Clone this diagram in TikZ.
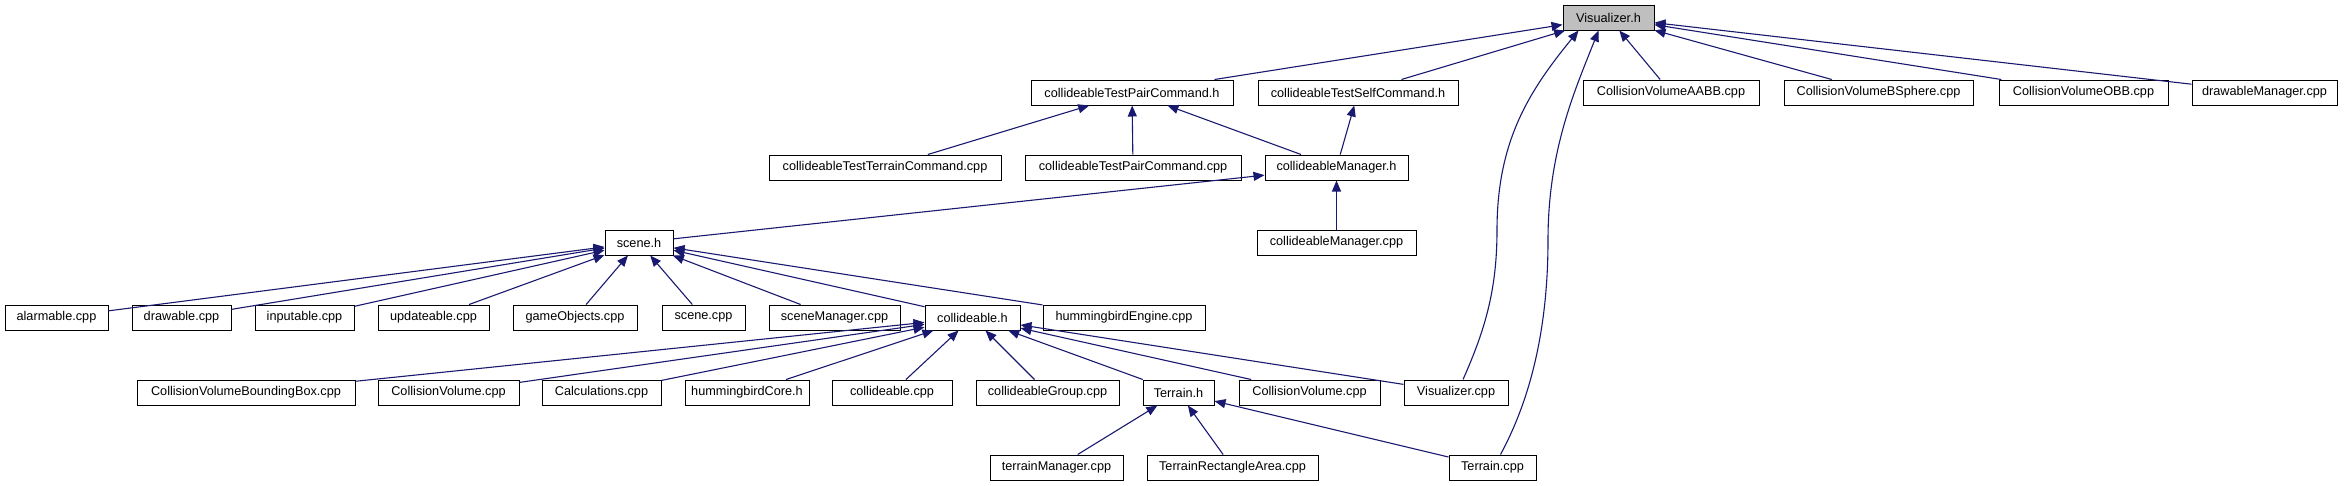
\documentclass[tikz,border=0pt]{standalone}
\usepackage{fontspec}
\setmainfont{Liberation Sans}
\usetikzlibrary{arrows.meta}
\definecolor{edgeblue}{RGB}{25,25,112}
\definecolor{rootgray}{RGB}{191,191,191}
\begin{document}
\begin{tikzpicture}[x=1pt, y=-1pt,
    file/.style={draw=black, line width=1pt, fill=white, minimum height=25pt,
        inner sep=0pt, font=\fontsize{12.7}{14}\selectfont},
    inc/.style={draw=edgeblue, line width=1.1pt, -{Triangle[length=11pt, width=9pt]}}]
    \useasboundingbox (0, 0) rectangle (2345, 485);

    % top
    \node[file, fill=rootgray, minimum width=91pt] (vish) at (1608.5, 17.5) {Visualizer.h};

    % rank 1
    \node[file, minimum width=202pt] (pairh) at (1132, 92.5) {collideableTestPairCommand.h};
    \node[file, minimum width=200pt] (selfh) at (1358, 92.5) {collideableTestSelfCommand.h};
    \node[file, minimum width=176pt] (aabb) at (1671, 92.5) {CollisionVolumeAABB.cpp};
    \node[file, minimum width=189pt] (bsphere) at (1878.5, 92.5) {CollisionVolumeBSphere.cpp};
    \node[file, minimum width=169pt] (obb) at (2083.5, 92.5) {CollisionVolumeOBB.cpp};
    \node[file, minimum width=145pt] (drawmgr) at (2264.5, 92.5) {drawableManager.cpp};

    % rank 2
    \node[file, minimum width=232pt] (terraincmd) at (885, 167.5) {collideableTestTerrainCommand.cpp};
    \node[file, minimum width=216pt] (paircpp) at (1133, 167.5) {collideableTestPairCommand.cpp};
    \node[file, minimum width=143pt] (mgrh) at (1336.5, 167.5) {collideableManager.h};

    % rank 3
    \node[file, minimum width=68pt] (sceneh) at (639, 242.5) {scene.h};
    \node[file, minimum width=159pt] (mgrcpp) at (1336.5, 242.5) {collideableManager.cpp};

    % rank 4
    \node[file, minimum width=103pt] (alarm) at (56.5, 317.5) {alarmable.cpp};
    \node[file, minimum width=99pt] (drawc) at (181.5, 317.5) {drawable.cpp};
    \node[file, minimum width=99pt] (inputc) at (304.5, 317.5) {inputable.cpp};
    \node[file, minimum width=111pt] (updatec) at (433.5, 317.5) {updateable.cpp};
    \node[file, minimum width=124pt] (gameobj) at (575, 317.5) {gameObjects.cpp};
    \node[file, minimum width=83pt] (scenec) at (703.5, 317.5) {scene.cpp};
    \node[file, minimum width=131pt] (scenemgr) at (834.5, 317.5) {sceneManager.cpp};
    \node[file, minimum width=95pt] (collh) at (972.5, 317.5) {collideable.h};
    \node[file, minimum width=162pt] (hbengine) at (1124, 317.5) {hummingbirdEngine.cpp};

    % rank 5
    \node[file, minimum width=218pt] (cvbb) at (246, 392.5) {CollisionVolumeBoundingBox.cpp};
    \node[file, minimum width=141pt] (cvone) at (448.5, 392.5) {CollisionVolume.cpp};
    \node[file, minimum width=119pt] (calc) at (601.5, 392.5) {Calculations.cpp};
    \node[file, minimum width=124pt] (hbcore) at (747, 392.5) {hummingbirdCore.h};
    \node[file, minimum width=120pt] (collc) at (892, 392.5) {collideable.cpp};
    \node[file, minimum width=143pt] (collgrp) at (1047.5, 392.5) {collideableGroup.cpp};
    \node[file, minimum width=71pt] (terrainh) at (1178.5, 392.5) {Terrain.h};
    \node[file, minimum width=141pt] (cvtwo) at (1309.5, 392.5) {CollisionVolume.cpp};
    \node[file, minimum width=104pt] (viscpp) at (1456, 392.5) {Visualizer.cpp};

    % rank 6
    \node[file, minimum width=133pt] (tmgr) at (1056.5, 467.5) {terrainManager.cpp};
    \node[file, minimum width=171pt] (trect) at (1232.5, 467.5) {TerrainRectangleArea.cpp};
    \node[file, minimum width=87pt] (terrainc) at (1492.5, 467.5) {Terrain.cpp};

    % included by
    \foreach \n in {pairh, selfh, aabb, bsphere, obb, drawmgr} {
        \draw[inc] (\n) -- (vish);
    }
    \foreach \n in {terraincmd, paircpp, mgrh} {
        \draw[inc] (\n) -- (pairh);
    }
    \draw[inc] (mgrh) -- (selfh);
    \foreach \n in {sceneh, mgrcpp} {
        \draw[inc] (\n) -- (mgrh);
    }
    \foreach \n in {alarm, drawc, inputc, updatec, gameobj, scenec, scenemgr, collh, hbengine} {
        \draw[inc] (\n) -- (sceneh);
    }
    \foreach \n in {cvbb, cvone, calc, hbcore, collc, collgrp, terrainh, cvtwo, viscpp} {
        \draw[inc] (\n) -- (collh);
    }
    \foreach \n in {tmgr, trect, terrainc} {
        \draw[inc] (\n) -- (terrainh);
    }

    % long ones up to Visualizer.h
    \draw[inc] ([xshift=7pt]viscpp.north) .. controls (1485, 330) and (1497, 290) .. (1497, 230)
        .. controls (1497, 140) and (1530, 90) .. ([xshift=-30pt]vish.south);
    \draw[inc] ([xshift=8pt]terrainc.north) .. controls (1530, 400) and (1548, 330) .. (1548, 240)
        .. controls (1548, 150) and (1575, 90) .. ([xshift=-10pt]vish.south);
\end{tikzpicture}
\end{document}
